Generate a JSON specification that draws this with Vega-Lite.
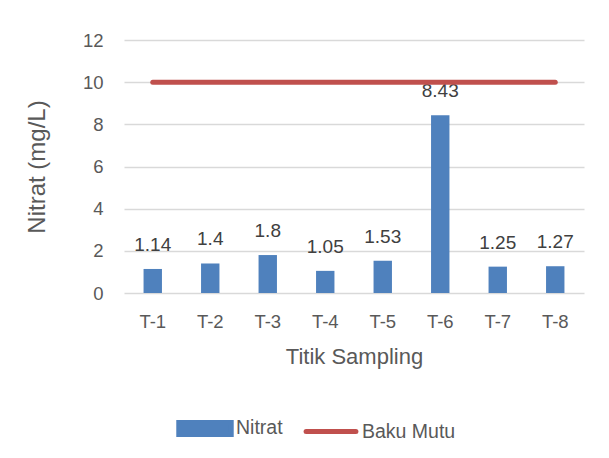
{
  "$schema": "https://vega.github.io/schema/vega-lite/v6.json",
  "autosize": {"type": "none"},
  "width": 460,
  "height": 253,
  "padding": {"left": 124, "top": 40, "right": 25, "bottom": 165},
  "background": "white",
  "config": {
    "font": "Liberation Sans",
    "view": {"stroke": null},
    "axis": {"labelFont": "Liberation Sans", "titleFont": "Liberation Sans", "labelColor": "#595959", "titleColor": "#595959", "labelFontSize": 18.5, "titleFontSize": 22, "titleFontWeight": "normal", "gridColor": "#D9D9D9", "gridWidth": 1.5, "domain": false, "ticks": false},
    "legend": {"labelFont": "Liberation Sans", "labelFontSize": 19.5, "labelColor": "#595959"}
  },
  "data": {"values": [
    {"titik": "T-1", "nitrat": 1.14, "baku": 10},
    {"titik": "T-2", "nitrat": 1.4, "baku": 10},
    {"titik": "T-3", "nitrat": 1.8, "baku": 10},
    {"titik": "T-4", "nitrat": 1.05, "baku": 10},
    {"titik": "T-5", "nitrat": 1.53, "baku": 10},
    {"titik": "T-6", "nitrat": 8.43, "baku": 10},
    {"titik": "T-7", "nitrat": 1.25, "baku": 10},
    {"titik": "T-8", "nitrat": 1.27, "baku": 10}
  ]},
  "encoding": {
    "x": {"field": "titik", "type": "nominal", "sort": null,
      "scale": {"paddingInner": 0.68, "paddingOuter": 0.34},
      "axis": {"title": "Titik Sampling", "labelAngle": 0, "labelPadding": 19, "titlePadding": 16, "grid": false}}
  },
  "layer": [
    {
      "mark": {"type": "bar"},
      "encoding": {
        "y": {"field": "nitrat", "type": "quantitative",
          "scale": {"domain": [0, 12]},
          "axis": {"title": "Nitrat (mg/L)", "titleFontSize": 24, "values": [0, 2, 4, 6, 8, 10, 12], "labelPadding": 21, "titlePadding": 33, "grid": true}},
        "color": {"datum": "Nitrat", "type": "nominal",
          "scale": {"domain": ["Nitrat", "Baku Mutu"], "range": ["#4F81BD", "#C0504D"]},
          "legend": {"title": null, "orient": "none", "direction": "horizontal", "legendX": 52, "legendY": 359,
            "symbolType": "stroke", "symbolSize": 2750, "columnPadding": 13, "labelOffset": 2,
            "encode": {"symbols": {"update": {
              "shape": {"signal": "datum.value === 'Nitrat' ? 'M-1,-0.23H1V0.23H-1Z' : 'M-0.95,0H0.95'"},
              "size": {"value": 2750},
              "stroke": {"signal": "datum.value === 'Nitrat' ? 'transparent' : '#C0504D'"},
              "strokeWidth": {"value": 5},
              "strokeCap": {"value": "round"},
              "fill": {"signal": "datum.value === 'Nitrat' ? '#4F81BD' : 'transparent'"}
            }}}}}
      }
    },
    {
      "mark": {"type": "text", "baseline": "alphabetic", "dy": -18, "fontSize": 19, "color": "#404040", "font": "Liberation Sans"},
      "encoding": {
        "y": {"field": "nitrat", "type": "quantitative"},
        "text": {"field": "nitrat", "type": "quantitative"}
      }
    },
    {
      "mark": {"type": "line", "strokeWidth": 5, "strokeCap": "round"},
      "encoding": {
        "y": {"field": "baku", "type": "quantitative"},
        "color": {"datum": "Baku Mutu", "type": "nominal"}
      }
    }
  ]
}
